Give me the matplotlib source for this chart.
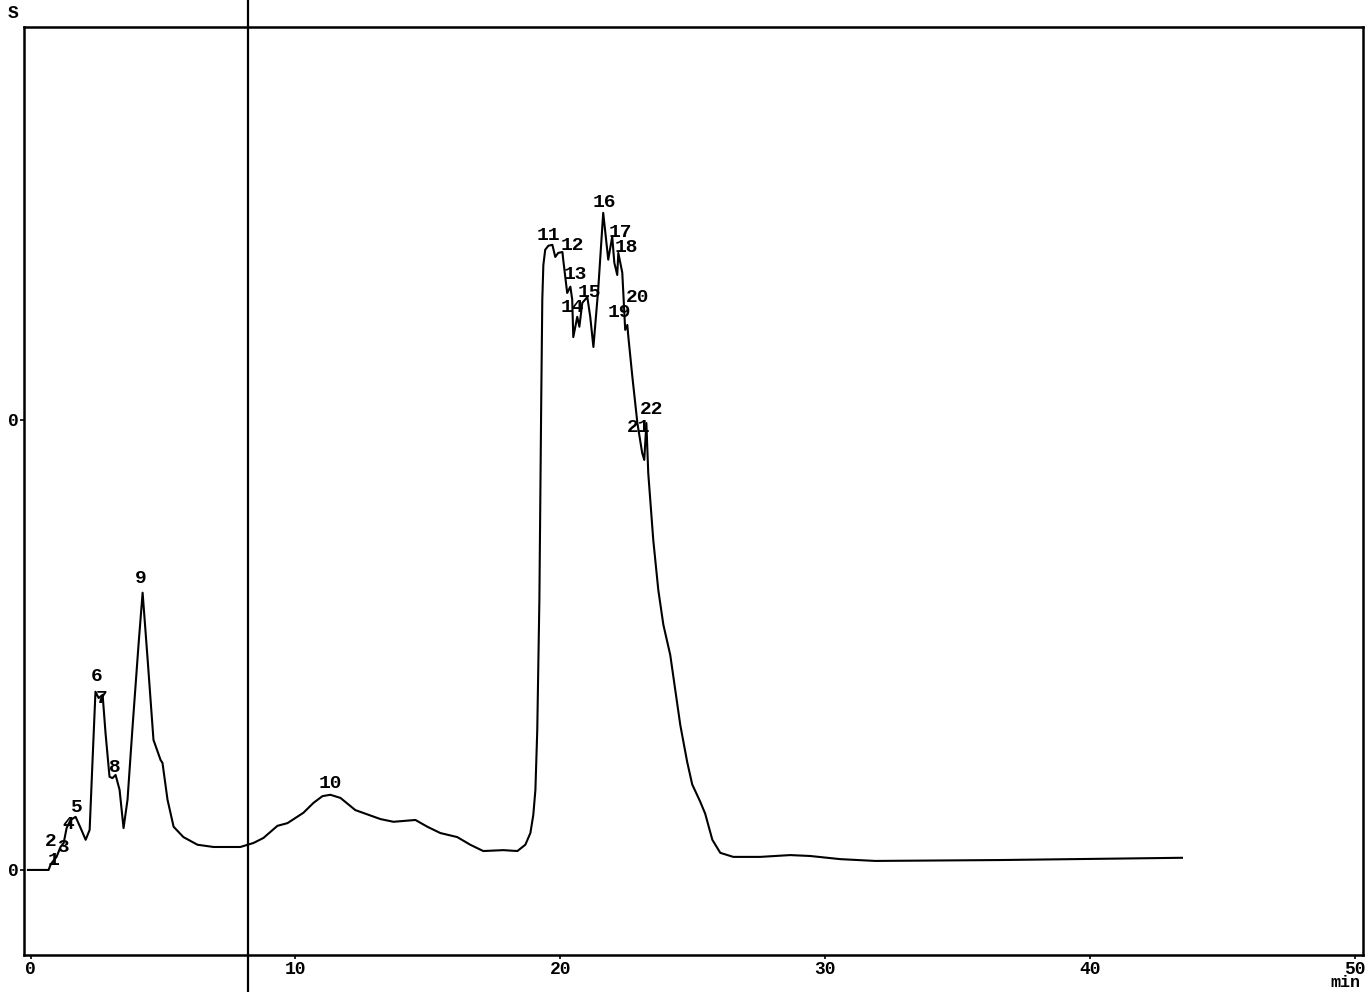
import matplotlib
matplotlib.use("Agg")
import matplotlib.pyplot as plt
from matplotlib.ticker import FixedLocator, FixedFormatter

# trace, time in min / signal in detector units (tick "0" at 0 and the next at 1)
rt = [-0.1, 0.68, 0.75, 0.83, 0.98, 1.13, 1.25, 1.36, 1.51, 1.70, 1.89, 2.08, 2.23,
      2.34, 2.45, 2.57, 2.72, 2.83, 2.98, 3.09, 3.21, 3.36, 3.51, 3.66, 3.85, 4.08,
      4.23, 4.42, 4.64, 4.91, 4.98, 5.17, 5.40, 5.77, 6.30, 6.91, 7.92, 8.42, 8.79,
      9.32, 9.70, 10.30, 10.68, 11.02, 11.32, 11.70, 12.26, 13.21, 13.70, 14.53,
      14.98, 15.47, 16.11, 16.60, 17.09, 17.85, 18.38, 18.68, 18.87, 18.98, 19.06,
      19.13, 19.21, 19.28, 19.32, 19.36, 19.43, 19.55, 19.70, 19.81, 19.92, 20.08,
      20.11, 20.26, 20.38, 20.45, 20.49, 20.64, 20.72, 20.83, 21.02, 21.13, 21.25,
      21.43, 21.62, 21.77, 21.81, 21.96, 22.04, 22.15, 22.19, 22.34, 22.45, 22.53,
      22.57, 22.72, 22.91, 23.09, 23.17, 23.25, 23.32, 23.51, 23.70, 23.89, 24.15,
      24.34, 24.53, 24.79, 24.98, 25.28, 25.47, 25.74, 26.04, 26.53, 27.55,
      28.68, 29.43, 30.57, 31.89, 36.6, 43.47]
sig = [0.0, 0.0, 0.011, 0.018, 0.029, 0.051, 0.06, 0.093, 0.111, 0.118, 0.093, 0.067,
       0.089, 0.244, 0.396, 0.382, 0.389, 0.304, 0.207, 0.204, 0.211, 0.178, 0.093,
       0.156, 0.318, 0.504, 0.616, 0.467, 0.289, 0.244, 0.238, 0.156, 0.096, 0.073,
       0.056, 0.051, 0.051, 0.060, 0.071, 0.098, 0.104, 0.127, 0.149, 0.164, 0.167,
       0.160, 0.133, 0.113, 0.107, 0.111, 0.096, 0.082, 0.073, 0.056, 0.042, 0.044,
       0.042, 0.056, 0.082, 0.122, 0.178, 0.311, 0.60, 1.044, 1.267, 1.344, 1.378,
       1.387, 1.389, 1.362, 1.371, 1.373, 1.356, 1.282, 1.296, 1.267, 1.184, 1.229,
       1.207, 1.26, 1.273, 1.229, 1.162, 1.289, 1.46, 1.378, 1.356, 1.407, 1.349,
       1.322, 1.371, 1.327, 1.2, 1.211, 1.184, 1.096, 0.993, 0.927, 0.911, 0.993,
       0.882, 0.733, 0.622, 0.545, 0.478, 0.40, 0.322, 0.240, 0.190, 0.152,
       0.125, 0.067, 0.038, 0.029, 0.029, 0.033, 0.031, 0.024, 0.02, 0.022, 0.027]

# peak numbers as printed
pk_num = [str(i) for i in range(1, 23)]
pk_x = [0.86, 0.78, 1.24, 1.43, 1.74, 2.49, 2.68, 3.17, 4.15, 11.32, 19.55, 20.45,
        20.57, 20.45, 21.09, 21.66, 22.26, 22.49, 22.23, 22.91, 22.94, 23.43]
pk_y = [0.022, 0.064, 0.049, 0.10, 0.138, 0.429, 0.382, 0.227, 0.647, 0.191, 1.409,
        1.387, 1.322, 1.249, 1.284, 1.482, 1.416, 1.382, 1.238, 1.271, 0.984, 1.022]

xticks = [0, 10, 20, 30, 40, 50]
yticks = [0, 1]
ytick_lbl = ["0", "0"]
marker_t = 8.19

mono = "Liberation Mono"

fig = plt.figure(figsize=(13.69, 9.92), dpi=100)
ax = fig.add_axes([0.0175, 0.0373, 0.978, 0.9355])

ax.plot(rt, sig, color="black", lw=1.5)
ax.axvline(marker_t, ymin=-0.1, ymax=1.1, color="black", lw=1.6, clip_on=False)

for n, x, y in zip(pk_num, pk_x, pk_y):
    ax.text(x, y, n, ha="center", va="center", fontsize=14, family=mono,
            fontweight="bold")

ax.set_xlim(-0.25, 50.3)
ax.set_ylim(-0.189, 1.873)
ax.xaxis.set_major_locator(FixedLocator(xticks))
ax.yaxis.set_major_locator(FixedLocator(yticks))
ax.yaxis.set_major_formatter(FixedFormatter(ytick_lbl))
ax.tick_params(direction="out", length=3, width=1.2, pad=1)
for lbl in ax.get_xticklabels() + ax.get_yticklabels():
    lbl.set_family(mono)
    lbl.set_fontweight("bold")
    lbl.set_fontsize(13)
for s in ax.spines.values():
    s.set_linewidth(1.8)

fig.text(0.0095, 0.986, "S", fontsize=13, family=mono, fontweight="bold",
         ha="center", va="center")
fig.text(0.9825, 0.002, "min", fontsize=12, family=mono, fontweight="bold",
         ha="center", va="bottom")

fig.savefig("out.png", dpi=100)
